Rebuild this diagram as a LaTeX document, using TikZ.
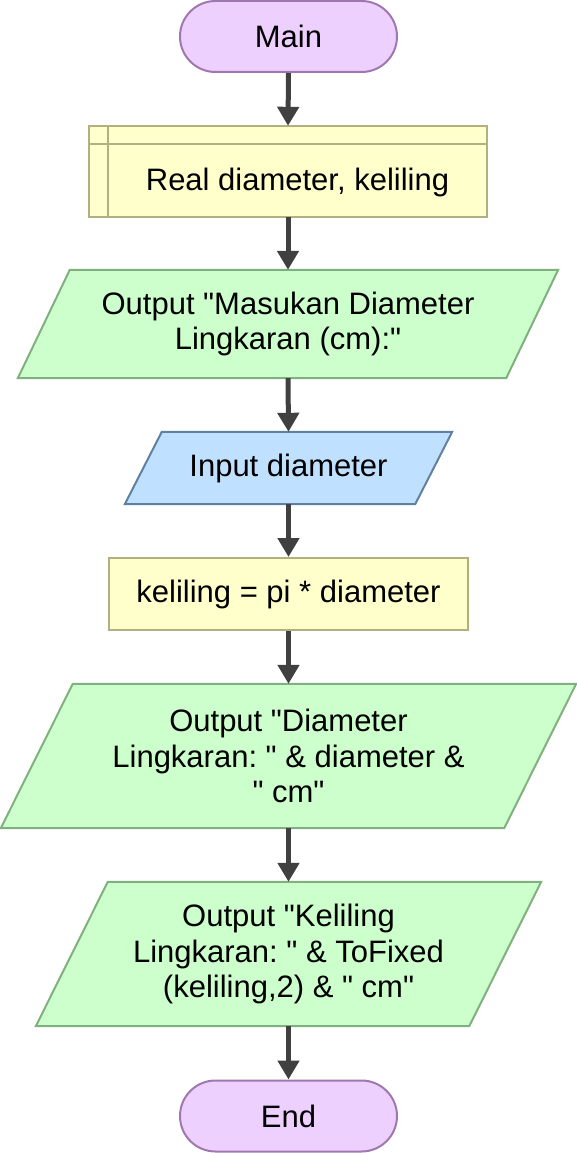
\documentclass[tikz,border=0pt]{standalone}
\usepackage{fontspec}
\setmainfont{Liberation Sans}[Ligatures=TeXOff]
\usetikzlibrary{arrows.meta,backgrounds}
\frenchspacing
\newcommand\dq{\symbol{34}}
\definecolor{termfill}{RGB}{238,208,255}
\definecolor{termline}{RGB}{160,120,176}
\definecolor{procfill}{RGB}{255,255,204}
\definecolor{procline}{RGB}{176,176,128}
\definecolor{outfill}{RGB}{204,255,204}
\definecolor{outline}{RGB}{128,176,128}
\definecolor{infill}{RGB}{192,224,255}
\definecolor{inline}{RGB}{96,128,160}
\definecolor{arrowc}{RGB}{64,64,64}
\tikzset{
  txt/.style={font=\fontsize{31}{35.5}\selectfont\frenchspacing, align=center, inner sep=0pt},
  term/.style={txt, draw=termline, fill=termfill, line width=2pt, rounded corners=35.5pt, minimum width=217pt, minimum height=71pt},
  procbox/.style={txt, draw=procline, fill=procfill, line width=2pt, minimum width=359pt, minimum height=72pt},
  holder/.style={txt, minimum width=#1},
  outshape/.style={draw=outline, fill=outfill, line width=2pt},
  inshape/.style={draw=inline, fill=infill, line width=2pt},
  declshape/.style={draw=procline, fill=procfill, line width=2pt},
  flow/.style={draw=arrowc, line width=5pt, -{Triangle[width=21pt,length=19pt]}, shorten >=0pt}
}
\begin{document}
\begin{tikzpicture}[x=1pt,y=-1pt]
\useasboundingbox (0,0) rectangle (577,1153);

% Main
\node[term] (main) at (288.5,36.5) {Main};

% Declaration
\node[txt, minimum width=398pt, minimum height=91pt] (decl) at (288,171.5) {};
\node[txt] (decltext) at (297.5,182) {Real diameter, keliling};

% Output 1
\node[holder=488pt, minimum height=108pt] (out1) at (288,324) {Output \dq Masukan Diameter\\Lingkaran (cm):\dq};

% Input
\node[holder=290pt, minimum height=72pt] (in1) at (288.5,468) {Input diameter};

% Process
\node[procbox] (proc) at (288.5,594) {keliling = pi * diameter};

% Output 2
\node[holder=503pt, minimum height=144pt] (out2) at (288.5,756) {Output \dq Diameter\\Lingkaran: \dq{} \& diameter \&\\\dq{} cm\dq};

% Output 3
\node[holder=433pt, minimum height=144pt] (out3) at (288.5,954) {Output \dq Keliling\\Lingkaran: \dq{} \& ToFixed\\(keliling,2) \& \dq{} cm\dq};

% End
\node[term] (end) at (288.5,1116) {End};

\begin{scope}[on background layer]
  % declaration box
  \draw[declshape] (decl.north west) rectangle (decl.south east);
  \draw[declshape] ([xshift=19pt]decl.north west) -- ([xshift=19pt]decl.south west);
  \draw[declshape] ([yshift=-18pt]decl.north west) -- ([yshift=-18pt]decl.north east);
  % output 1
  \draw[outshape] ([xshift=26pt]out1.north west) -- ([xshift=26pt]out1.north east)
     -- ([xshift=-26pt]out1.south east) -- ([xshift=-26pt]out1.south west) -- cycle;
  % input
  \draw[inshape] ([xshift=18.5pt]in1.north west) -- ([xshift=18.5pt]in1.north east)
     -- ([xshift=-18.5pt]in1.south east) -- ([xshift=-18.5pt]in1.south west) -- cycle;
  % output 2
  \draw[outshape] ([xshift=36pt]out2.north west) -- ([xshift=36pt]out2.north east)
     -- ([xshift=-36pt]out2.south east) -- ([xshift=-36pt]out2.south west) -- cycle;
  % output 3
  \draw[outshape] ([xshift=36pt]out3.north west) -- ([xshift=36pt]out3.north east)
     -- ([xshift=-36pt]out3.south east) -- ([xshift=-36pt]out3.south west) -- cycle;
\end{scope}

% Connectors
\draw[flow] (main.south) -- (decl.north);
\draw[flow] (decl.south) -- (out1.north);
\draw[flow] (out1.south) -- (in1.north);
\draw[flow] (in1.south) -- (proc.north);
\draw[flow] (proc.south) -- (out2.north);
\draw[flow] (out2.south) -- (out3.north);
\draw[flow] (out3.south) -- (end.north);
\end{tikzpicture}
\end{document}
